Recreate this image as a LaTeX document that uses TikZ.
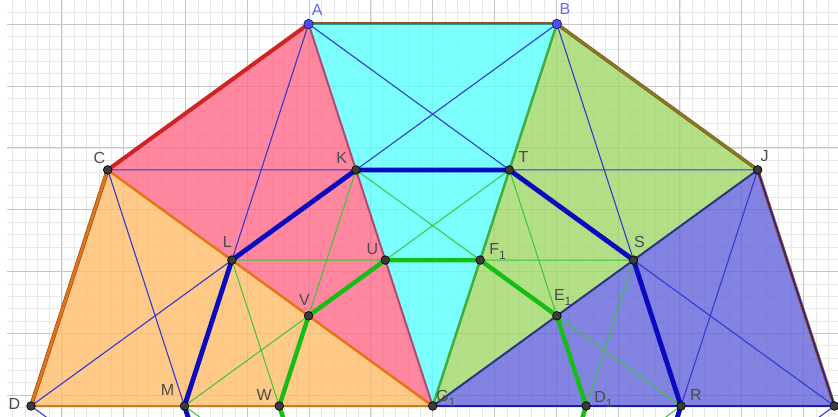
\documentclass[tikz,border=0pt]{standalone}
\usepackage{fontspec}
\setmainfont{Liberation Sans}
\definecolor{pinkf}{RGB}{255,105,135}
\definecolor{cyanf}{RGB}{90,255,255}
\definecolor{greenf}{RGB}{160,215,105}
\definecolor{orangef}{RGB}{255,188,105}
\definecolor{purplef}{RGB}{100,100,218}
\definecolor{blueThin}{RGB}{55,55,210}
\definecolor{greenThin}{RGB}{55,200,55}
\definecolor{blueThick}{RGB}{10,10,190}
\definecolor{greenThick}{RGB}{20,190,20}
\definecolor{edgeRed}{RGB}{210,35,35}
\definecolor{edgeOrange}{RGB}{230,115,20}
\definecolor{edgeBrown}{RGB}{150,80,30}
\definecolor{edgeDG}{RGB}{200,125,30}
\definecolor{edgeNavy}{RGB}{30,30,160}
\definecolor{edgeMauve}{RGB}{175,75,110}
\definecolor{edgeGreen}{RGB}{60,175,60}
\definecolor{edgeJG}{RGB}{40,55,130}
\definecolor{edgeOlive}{RGB}{120,130,30}
\definecolor{edgeTeal}{RGB}{40,160,150}
\definecolor{ptgray}{RGB}{60,60,60}
\definecolor{ptblue}{RGB}{75,75,255}
\definecolor{ptblueedge}{RGB}{30,30,90}
\definecolor{labgray}{RGB}{75,75,75}
\definecolor{labblue}{RGB}{100,100,255}
\tikzset{
  gmin/.style={draw=black!9, line width=0.6pt},
  gmaj/.style={draw=black!22, line width=1pt},
  tri/.style={fill opacity=0.8},
  thinb/.style={draw=blueThin, line width=1.1pt},
  thing/.style={draw=greenThin, line width=1pt},
  thickb/.style={draw=blueThick, line width=4.8pt, line cap=round, line join=round},
  thickg/.style={draw=greenThick, line width=4.4pt, line cap=round, line join=round},
  ptm/.style={circle, fill=ptgray, draw=black, line width=0.7pt, inner sep=0pt, minimum size=8.6pt},
  ptblu/.style={ptm, fill=ptblue, draw=ptblueedge, minimum size=9.4pt},
  lab/.style={text=labgray, inner sep=0pt, font=\fontsize{16}{16}\selectfont},
  labb/.style={lab, text=labblue},
}
\newcommand\subone{\raisebox{-5pt}{\fontsize{12}{12}\selectfont 1}}
\begin{document}
\begin{tikzpicture}[x=61.8pt,y=61.8pt]
\useasboundingbox (-7.002,-0.162) rectangle (6.558,6.570);
\clip (-7.002,-0.162) rectangle (6.558,6.570);
\fill[white] (-7.002,-0.162) rectangle (6.558,6.570);
% grid
\begin{scope}[yshift=10.88pt]
\draw[gmin, step=0.2] (-6.89,-0.4) grid (6.6,6.5);
\draw[gmaj, step=1] (-6.89,-0.4) grid (6.6,6.5);
\end{scope}
% coordinates
\def\Rr{6.5}\def\Rg{4.017}\def\Rs{2.483}
\coordinate (G1) at (0,0);
\coordinate (D) at (180:\Rr);
\coordinate (C) at (144:\Rr);
\coordinate (A) at (108:\Rr);
\coordinate (B) at (72:\Rr);
\coordinate (J) at (36:\Rr);
\coordinate (E) at (0:\Rr);
\coordinate (M) at (180:\Rg);
\coordinate (L) at (144:\Rg);
\coordinate (K) at (108:\Rg);
\coordinate (T) at (72:\Rg);
\coordinate (S) at (36:\Rg);
\coordinate (R) at (0:\Rg);
\coordinate (W) at (180:\Rs);
\coordinate (V) at (144:\Rs);
\coordinate (U) at (108:\Rs);
\coordinate (F1) at (72:\Rs);
\coordinate (E1) at (36:\Rs);
\coordinate (D1) at (0:\Rs);
\coordinate (Lm) at (216:\Rg);
\coordinate (Sm) at (-36:\Rg);
\coordinate (Vm) at (216:\Rs);
\coordinate (E1m) at (-36:\Rs);
% fills
\fill[orangef, tri] (C)--(D)--(G1)--cycle;
\fill[pinkf, tri] (A)--(C)--(G1)--cycle;
\fill[cyanf, tri] (A)--(B)--(G1)--cycle;
\fill[greenf, tri] (B)--(J)--(G1)--cycle;
\fill[purplef, tri] (J)--(E)--(G1)--cycle;
% inner edges
\draw[edgeDG, line width=2.5pt] (D)--(G1);
\draw[edgeNavy, line width=2.5pt] (G1)--(E);
\draw[edgeOrange, line width=2.5pt] (C)--(G1);
\draw[edgeMauve, line width=2pt] (A)--(G1);
\draw[edgeGreen, line width=2.5pt] (B)--(G1);
\draw[edgeJG, line width=2pt] (J)--(G1);
% outer edges
\draw[edgeRed, line width=4pt] (A)--(C);
\draw[edgeBrown, line width=4pt] (C)--(D);
\draw[edgeOrange, line width=2.6pt] (C)--(D);
\draw[edgeBrown, line width=3pt] (A)--(B);
\draw[edgeTeal, line width=1.6pt] ([yshift=-0.5pt]A)--([yshift=-0.5pt]B);
\draw[edgeBrown, line width=3.5pt] (B)--(J);
\draw[edgeOlive, line width=2pt] (B)--(J);
\draw[edgeBrown, line width=3.2pt] (J)--(E);
\draw[edgeNavy, line width=1.4pt] (J)--(E);
% thin lines
\draw[thinb] (C)--(M) (D)--(L) (A)--(L) (C)--(K) (A)--(T) (B)--(K)
  (B)--(S) (J)--(T) (J)--(R) (E)--(S);
\draw[thing] (L)--(W) (M)--(V) (K)--(V) (L)--(U) (T)--(U) (K)--(F1)
  (T)--(E1) (S)--(F1) (S)--(D1) (R)--(E1);
% stubs below the base line
\draw[thinb] (D)--(Lm) (E)--(Sm);
\draw[thing] (M)--(Vm) (R)--(E1m);
\draw[thickb] (M)--(Lm) (R)--(Sm);
\draw[thickg] (W)--(Vm) (D1)--(E1m);
% thick paths
\draw[thickb] (M)--(L)--(K)--(T)--(S)--(R);
\draw[thickg] (W)--(V)--(U)--(F1)--(E1)--(D1);
% points
\foreach \p in {C,J,D,E,G1,M,L,K,T,S,R,W,V,U,F1,E1,D1}{\node[ptm] (p\p) at (\p) {};}
\node[ptblu] (pA) at (A) {};
\node[ptblu] (pB) at (B) {};
% labels
\node[labb] (labA) at ([shift={(8.7pt,14pt)}]A) {A};
\node[labb] (labB) at ([shift={(8pt,14.5pt)}]B) {B};
\node[lab] (labC) at ([shift={(-8.3pt,12pt)}]C) {C};
\node[lab] (labK) at ([shift={(-14.3pt,12pt)}]K) {K};
\node[lab] (labT) at ([shift={(14pt,13pt)}]T) {T};
\node[lab] (labJ) at ([shift={(7pt,13.5pt)}]J) {J};
\node[lab] (labL) at ([shift={(-4.5pt,18pt)}]L) {L};
\node[lab] (labU) at ([shift={(-13pt,11pt)}]U) {U};
\node[lab] (labV) at ([shift={(-4pt,16pt)}]V) {V};
\node[lab] (labM) at ([shift={(-17pt,16pt)}]M) {M};
\node[lab] (labW) at ([shift={(-15pt,11.5pt)}]W) {W};
\node[lab] (labD) at ([shift={(-16.7pt,2pt)}]D) {D};
\node[lab] (labS) at ([shift={(6pt,18pt)}]S) {S};
\node[lab] (labR) at ([shift={(15pt,11.5pt)}]R) {R};
\node[lab, anchor=base west] (labF1) at ([shift={(9pt,6pt)}]F1) {F\subone};
\node[lab, anchor=base west] (labE1) at ([shift={(-3pt,15pt)}]E1) {E\subone};
\node[lab, anchor=base west] (labG1) at ([shift={(3.5pt,4.5pt)}]G1) {G\subone};
\node[lab, anchor=base west] (labD1) at ([shift={(8pt,4pt)}]D1) {D\subone};
\end{tikzpicture}
\end{document}
